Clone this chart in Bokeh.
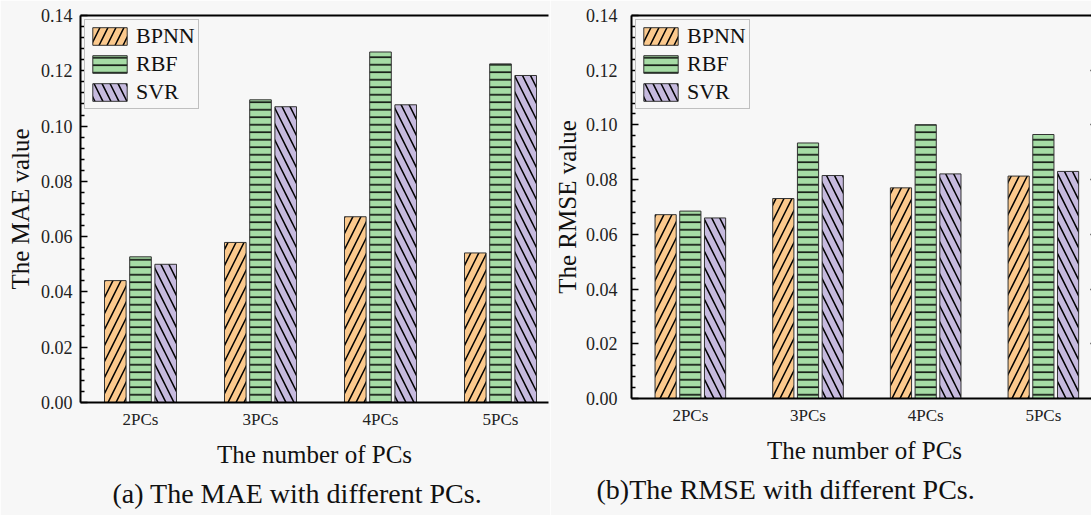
import numpy as np
from bokeh.plotting import figure
from bokeh.models import (ColumnDataSource, Range1d, LinearAxis, FixedTicker,
                          Legend, LegendItem, Title, PrintfTickFormatter)
from bokeh.layouts import row
from bokeh.transform import dodge
from bokeh.embed import file_html
from bokeh.resources import INLINE

# ---------------- data ----------------
categories = ["2PCs", "3PCs", "4PCs", "5PCs"]
models = ["BPNN", "RBF", "SVR"]

mae_bpnn = [0.0441, 0.0579, 0.0672, 0.0541]
mae_rbf = [0.0527, 0.1095, 0.1268, 0.1225]
mae_svr = [0.0500, 0.1070, 0.1077, 0.1183]

rmse_bpnn = [0.0672, 0.0731, 0.0770, 0.0813]
rmse_rbf = [0.0685, 0.0934, 0.1001, 0.0965]
rmse_svr = [0.0660, 0.0815, 0.0821, 0.0830]

y_ticks = [0.00, 0.02, 0.04, 0.06, 0.08, 0.10, 0.12, 0.14]

# ---------------- styles ----------------
FONT = "Liberation Serif"
BG = "#f7f7f7"
fills = ["#FBC98D", "#A6DCA5", "#C6BADE"]
hatches = ["/", "-", "\\"]
hatch_scales = [16, 7.5, 16]
offsets = [-0.21, 0.0, 0.21]
BAR_W = 0.18

minor_ticks = []
for a, b in zip(y_ticks[:-1], y_ticks[1:]):
    step = (b - a) / 5
    minor_ticks += [a + k * step for k in range(1, 5)]


def make_panel(bpnn, rbf, svr, ylabel, caption, x_end, frame_w, frame_h,
               border_left, border_right, border_top, border_bottom,
               tick_standoff, label_standoff, cap_offset, legend_margin,
               right_ticks):
    p = figure(frame_width=frame_w, frame_height=frame_h,
               x_range=Range1d(0.5, x_end), y_range=Range1d(0, 0.14),
               output_backend="svg", toolbar_location=None,
               min_border_left=border_left, min_border_right=border_right,
               min_border_top=border_top, min_border_bottom=border_bottom,
               background_fill_color=BG, border_fill_color=BG)
    p.grid.visible = False
    p.outline_line_color = None

    src = ColumnDataSource(dict(x=list(range(1, len(categories) + 1)),
                                BPNN=bpnn, RBF=rbf, SVR=svr))
    items = []
    for m, c, h, hs, off in zip(models, fills, hatches, hatch_scales, offsets):
        r = p.vbar(x=dodge("x", off, range=p.x_range), top=m, width=BAR_W,
                   source=src, fill_color=c, line_color="#333333",
                   line_width=1, hatch_pattern=h, hatch_color="black",
                   hatch_weight=1.5, hatch_scale=hs)
        items.append(LegendItem(label=m, renderers=[r]))

    leg = Legend(items=items, location="top_left",
                 label_text_font=FONT, label_text_font_size="22px",
                 label_text_color="#111111",
                 glyph_width=43, glyph_height=22, label_height=22,
                 spacing=2, padding=3, margin=legend_margin,
                 label_standoff=5,
                 border_line_color="#888888", border_line_width=1.5,
                 background_fill_color=BG, background_fill_alpha=1)
    p.add_layout(leg, "center")

    # x axis
    xa = p.xaxis[0]
    xa.ticker = FixedTicker(ticks=list(range(1, len(categories) + 1)), minor_ticks=[])
    xa.major_label_overrides = {i + 1: c for i, c in enumerate(categories)}
    xa.major_tick_in = 0
    xa.major_tick_out = 0
    xa.minor_tick_in = 0
    xa.minor_tick_out = 0
    xa.axis_line_width = 2
    xa.axis_line_color = "black"
    xa.major_label_text_font = FONT
    xa.major_label_text_font_size = "17px"
    xa.major_label_text_color = "#222222"
    xa.major_label_standoff = 7
    xa.axis_label = "The number of PCs"
    xa.axis_label_text_font = FONT
    xa.axis_label_text_font_size = "25px"
    xa.axis_label_text_font_style = "normal"
    xa.axis_label_text_color = "#111111"
    xa.axis_label_standoff = 9

    # y axis
    ya = p.yaxis[0]
    ya.ticker = FixedTicker(ticks=y_ticks, minor_ticks=minor_ticks)
    ya.formatter = PrintfTickFormatter(format="%.2f")
    ya.major_tick_in = 7
    ya.major_tick_out = 0
    ya.minor_tick_in = 4
    ya.minor_tick_out = 0
    ya.axis_line_width = 2
    ya.major_tick_line_width = 1.5
    ya.minor_tick_line_width = 1.5
    ya.major_label_text_font = FONT
    ya.major_label_text_font_size = "18px"
    ya.major_label_text_color = "#222222"
    ya.major_label_standoff = tick_standoff
    ya.axis_label = ylabel
    ya.axis_label_text_font = FONT
    ya.axis_label_text_font_size = "25px"
    ya.axis_label_text_font_style = "normal"
    ya.axis_label_text_color = "#111111"
    ya.axis_label_standoff = label_standoff

    # top border line
    top = LinearAxis(ticker=FixedTicker(ticks=[]), major_label_text_font_size="0px",
                     major_tick_in=0, major_tick_out=0, minor_tick_in=0,
                     minor_tick_out=0, major_label_standoff=0,
                     axis_line_width=2, axis_line_color="black")
    p.add_layout(top, "above")

    if right_ticks:
        ra = LinearAxis(ticker=FixedTicker(ticks=y_ticks, minor_ticks=minor_ticks),
                        major_label_text_font_size="0px", major_label_standoff=0,
                        major_tick_in=7, major_tick_out=0,
                        minor_tick_in=4, minor_tick_out=0,
                        major_tick_line_width=1.5, minor_tick_line_width=1.5,
                        axis_line_color=None)
        ra.major_label_overrides = {t: "" for t in y_ticks}
        p.add_layout(ra, "right")

    t = Title(text=caption, align="left", text_font=FONT,
              text_font_size="28px", text_font_style="normal",
              text_color="#111111", standoff=10, offset=cap_offset)
    p.add_layout(t, "below")
    return p


p1 = make_panel(mae_bpnn, mae_rbf, mae_svr, "The MAE value",
                "(a) The MAE with different PCs.", 4.4, 468, 387,
                80, 2, 12, 116, 8, 4, 32, 4, False)
p2 = make_panel(rmse_bpnn, rmse_rbf, rmse_svr, "The RMSE value",
                "(b)The RMSE with different PCs.", 4.46, 466, 383,
                73, 2, 15, 117, 14, 2, -35, 4, True)

layout = row(p1, p2, spacing=0)
open("out.html", "w").write(file_html(layout, INLINE))
